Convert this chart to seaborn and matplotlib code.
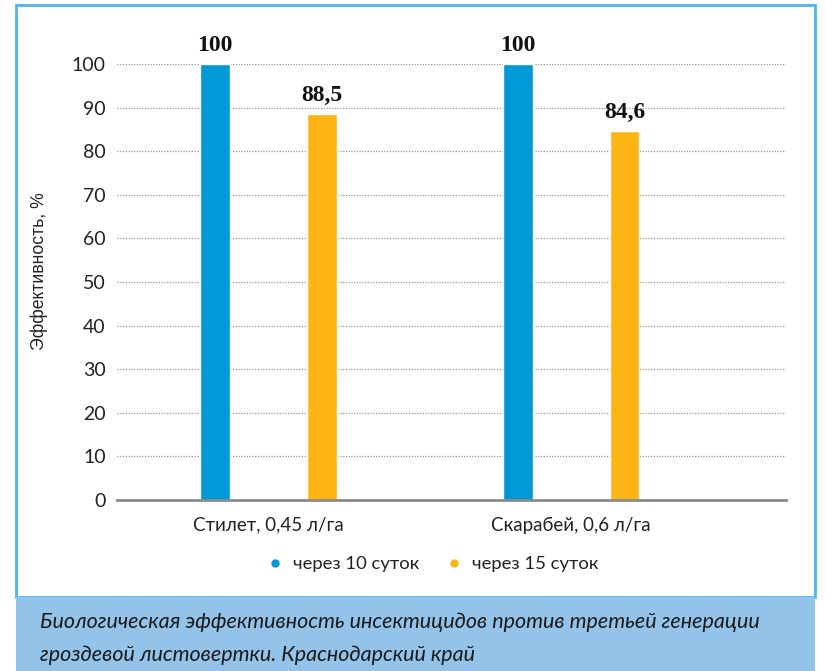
import matplotlib
matplotlib.use("Agg")
import matplotlib.pyplot as plt
from matplotlib.patches import Rectangle
from matplotlib.lines import Line2D
import seaborn as sns
import pandas as pd

categories = ["Стилет, 0,45 л/га", "Скарабей, 0,6 л/га"]
series_names = ["через 10 суток", "через 15 суток"]
after_10 = [100, 100]
after_15 = [88.5, 84.6]
value_labels_10 = ["100", "100"]
value_labels_15 = ["88,5", "84,6"]
yticks = [0, 10, 20, 30, 40, 50, 60, 70, 80, 90, 100]
ylabel = "Эффективность, %"
caption = ["Биологическая эффективность инсектицидов против третьей генерации",
           "гроздевой листовертки. Краснодарский край"]
colors = ["#0099d8", "#fdb515"]

df = pd.DataFrame({
    "cat": categories * 2,
    "series": [series_names[0]] * 2 + [series_names[1]] * 2,
    "value": after_10 + after_15,
    "label": value_labels_10 + value_labels_15,
})

sns.set_theme(style="white")
plt.rcParams["font.family"] = ["Lato", "DejaVu Sans"]

W, H = 825, 671
fig = plt.figure(figsize=(W / 100, H / 100), dpi=100)

# frame and caption band
fig.patches.append(Rectangle((16 / W, 1 - 597 / H), (815 - 16) / W, (597 - 5) / H,
                             transform=fig.transFigure, fill=False,
                             edgecolor="#4db8e8", linewidth=2, zorder=0))
fig.patches.append(Rectangle((16 / W, 0), (815 - 16) / W, (671 - 597) / H,
                             transform=fig.transFigure, facecolor="#93c3e8",
                             edgecolor="none", zorder=0))

ax = fig.add_axes([117 / W, 1 - 500 / H, (786 - 117) / W, (500 - 64) / H])
sns.barplot(data=df, x="cat", y="value", hue="series", palette=colors,
            width=0.706, gap=0.72, ax=ax, legend=False, saturation=1)

ax.set_ylim(0, 100)
ax.set_xlim(-0.5, 1.71)
ax.set_yticks(yticks)
ax.set_yticklabels([str(t) for t in yticks], fontsize=14, color="#222222")
ax.tick_params(axis="x", labelsize=13.5, colors="#222222", length=0, pad=12)
ax.tick_params(axis="y", length=0, pad=8)
for t in yticks[1:]:
    ax.axhline(t, color="#999999", linestyle=(0, (1, 1.2)), linewidth=0.9, zorder=0)
for s in ["top", "right", "left"]:
    ax.spines[s].set_visible(False)
ax.spines["bottom"].set_color("#8a8a8a")
ax.spines["bottom"].set_linewidth(2)
ax.set_xlabel("")
ax.set_ylabel(ylabel, fontsize=12.7, color="#222222", family="Liberation Sans")
ax.yaxis.set_label_coords((48 - 117) / 669, (500 - 271) / 436)

for container, labels in zip(ax.containers, [value_labels_10, value_labels_15]):
    ax.bar_label(container, labels=labels, padding=6, fontsize=17,
                 fontweight="bold", family="Liberation Serif", color="#111111",
                 clip_on=False)

handles = [Line2D([], [], marker="o", linestyle="none", markersize=5,
                  markerfacecolor=c, markeredgecolor=c) for c in colors]
fig.legend(handles, series_names, loc="center", bbox_to_anchor=(434 / W, 1 - 564 / H),
           ncol=2, frameon=False, fontsize=13.3, handlelength=0.6, handletextpad=0.68,
           columnspacing=1.54, labelcolor="#222222")

for i, line in enumerate(caption):
    fig.text(40 / W, 1 - (622 + 33 * i) / H, line, fontsize=15.5, style="italic",
             color="#1a1a1a", va="center", ha="left")

fig.savefig("out.png", dpi=100)
